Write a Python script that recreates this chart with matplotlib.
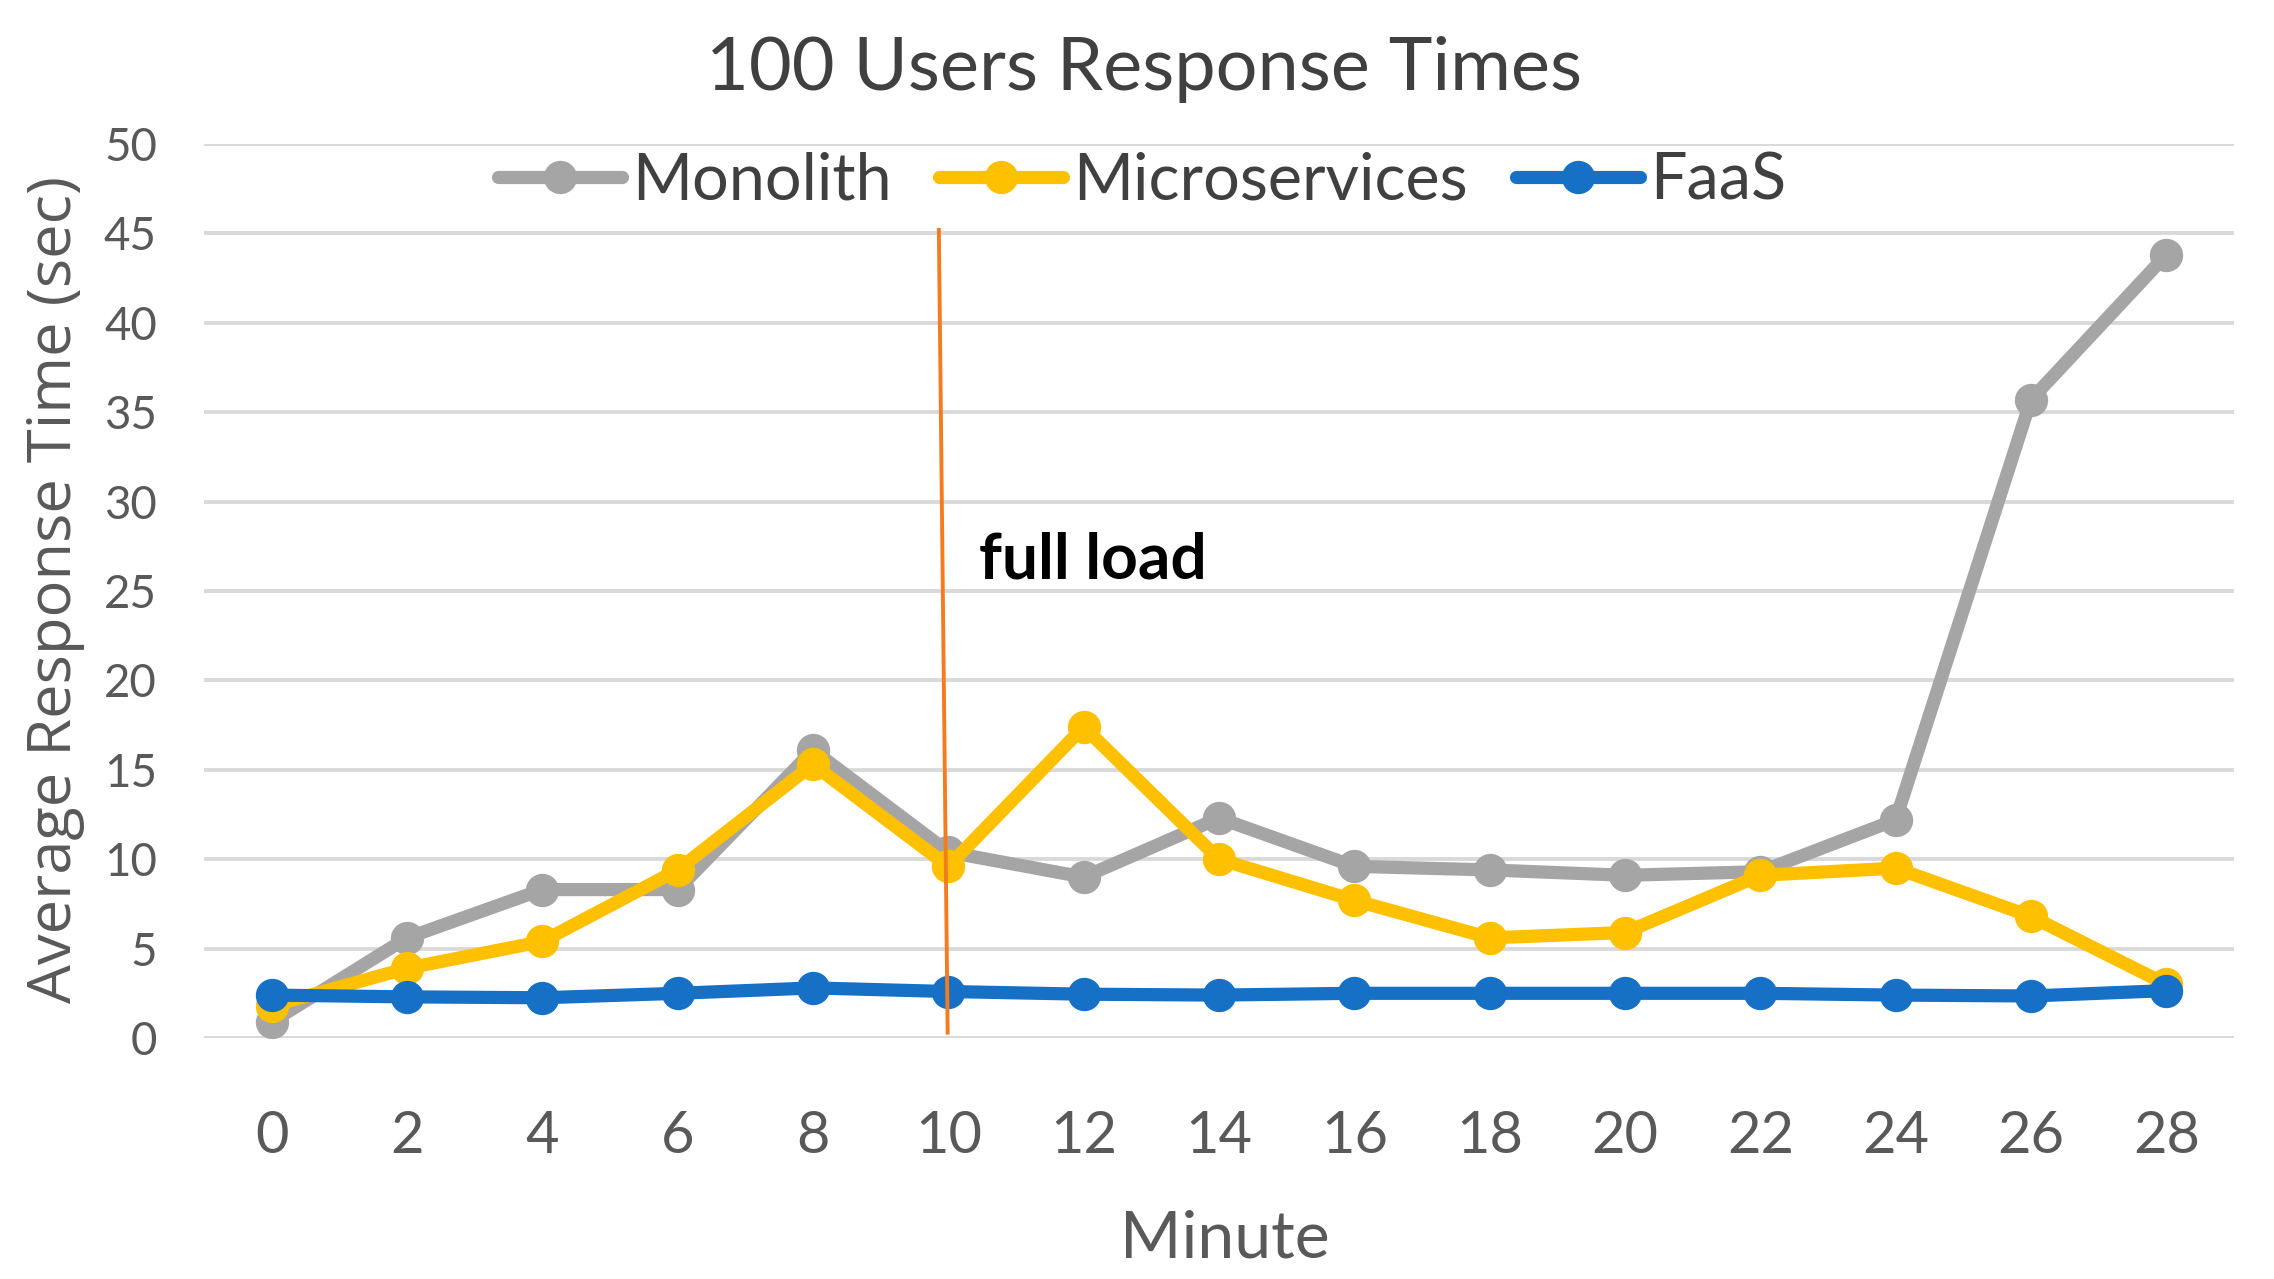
import matplotlib
matplotlib.use('Agg')
import matplotlib.pyplot as plt

# ---------------- data ----------------
minutes = [0, 2, 4, 6, 8, 10, 12, 14, 16, 18, 20, 22, 24, 26, 28]
monolith = [0.9, 5.6, 8.3, 8.3, 16.1, 10.4, 9.0, 12.3, 9.6, 9.4, 9.1, 9.3, 12.2, 35.7, 43.8]
microservices = [1.8, 3.9, 5.4, 9.4, 15.3, 9.6, 17.4, 10.0, 7.7, 5.6, 5.9, 9.1, 9.5, 6.8, 3.0]
faas = [2.4, 2.3, 2.25, 2.5, 2.8, 2.6, 2.45, 2.4, 2.5, 2.5, 2.5, 2.5, 2.4, 2.35, 2.65]
series_names = ['Monolith', 'Microservices', 'FaaS']
yticks = [0, 5, 10, 15, 20, 25, 30, 35, 40, 45, 50]
title = '100 Users Response Times'
xlabel = 'Minute'
ylabel = 'Average Response Time (sec)'
annot_text = 'full load'

# ---------------- style ----------------
W, H = 2274, 1279
FONT = 'Lato'
colors = ['#A5A5A5', '#FFC000', '#1570C6']
grid_col = '#D9D9D9'
text_col = '#595959'
dark_col = '#404040'

fig = plt.figure(figsize=(W / 100, H / 100), dpi=100)
px_left, px_right, px_top, px_bottom = 204, 2234, 144, 1038
ax = fig.add_axes([px_left / W, 1 - px_bottom / H,
                   (px_right - px_left) / W, (px_bottom - px_top) / H])

for name, vals, c, z in zip(series_names, [monolith, microservices, faas], colors, [3, 4, 5]):
    ax.plot(minutes, vals, color=c, lw=9.5, marker='o', ms=23,
            solid_capstyle='round', solid_joinstyle='round', label=name, zorder=z)

ax.set_xlim(-1, 29)
ax.set_ylim(0, 50)
ax.set_xticks(minutes)
ax.set_xticklabels([str(m) for m in minutes])
ax.set_yticks(yticks)
ax.set_yticklabels([str(v) for v in yticks])
ax.grid(axis='y', color=grid_col, lw=2.8)
ax.grid(axis='x', visible=False)
ax.set_axisbelow(True)
for s in ax.spines.values():
    s.set_visible(False)
ax.tick_params(axis='both', length=0, colors=text_col)
ax.tick_params(axis='x', pad=52)
ax.tick_params(axis='y', pad=34)
for t in ax.get_xticklabels() + ax.get_yticklabels():
    t.set_fontfamily(FONT)

# vertical "full load" marker line (slightly slanted as in the original)
ax.plot([9.86, 9.99], [45.2, 0.3], color='#F47B20', lw=2.8, zorder=10)
ann = ax.text(10.46, 25.7, annot_text, fontsize=44, family=FONT, fontweight='bold',
              color='black', ha='left', va='baseline', zorder=11)

ttl = fig.text(1144 / W, 1 - 90 / H, title, fontsize=50, family=FONT, color=dark_col,
               ha='center', va='baseline')

xl = ax.set_xlabel(xlabel, fontsize=46, family=FONT, color=text_col, va='center')
ax.xaxis.set_label_coords(0.5 + (1225 - (px_left + px_right) / 2) / (px_right - px_left),
                          (px_bottom - 1239) / (px_bottom - px_top))
yl = ax.set_ylabel(ylabel, fontsize=44, family='Open Sans', color=text_col, ha='center', va='center')
ax.yaxis.set_label_coords((55 - px_left) / (px_right - px_left),
                          (px_bottom - 589) / (px_bottom - px_top))

fig.canvas.draw()
r = fig.canvas.get_renderer()


def fit(t, target, vertical=False):
    bb = t.get_window_extent(r)
    w = bb.height if vertical else bb.width
    t.set_fontsize(t.get_fontsize() * target / w)


fit(ttl, 875)
fit(ann, 228)
fit(xl, 210)
fit(yl, 828, vertical=True)

# tick label sizes
xt = ax.get_xticklabels()[-1]
xs = xt.get_fontsize() * 67 / xt.get_window_extent(r).width
yt = ax.get_yticklabels()[-1]
ys = yt.get_fontsize() * 53 / yt.get_window_extent(r).width
for t in ax.get_xticklabels():
    t.set_fontsize(xs)
for t in ax.get_yticklabels():
    t.set_fontsize(ys)

# legend: size it so that "Monolith" is ~260 px wide
tmp = fig.text(0, 0, 'Monolith', fontsize=40, family=FONT)
lw_ = tmp.get_window_extent(r).width
tmp.remove()
lfs = 40 * 260 / lw_
fpx = lfs * 100 / 72
leg = fig.legend(loc='center', bbox_to_anchor=(1142 / W, 1 - 181 / H), ncol=3,
                 frameon=False, prop={'family': FONT, 'size': lfs},
                 handlelength=124 / fpx, handletextpad=10 / fpx, columnspacing=48 / fpx,
                 borderpad=0, borderaxespad=0)
for t in leg.get_texts():
    t.set_color(dark_col)

fig.savefig('out.png', dpi=100, facecolor='white')
